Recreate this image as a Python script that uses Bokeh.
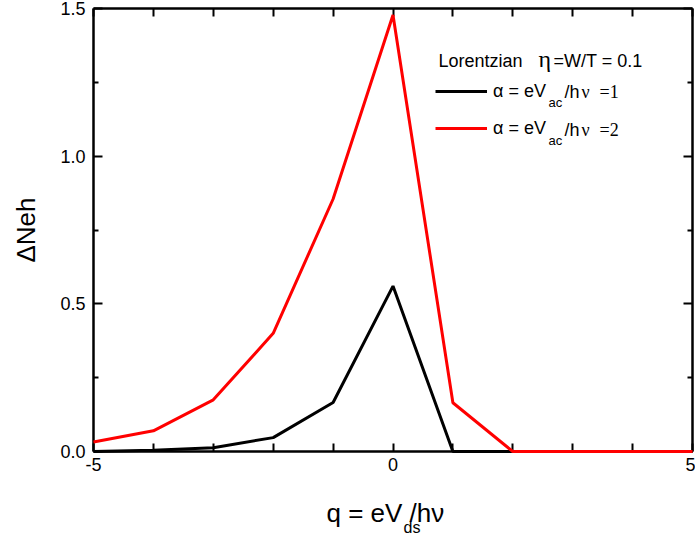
from bokeh.plotting import figure
from bokeh.models import (LinearAxis, FixedTicker, Label, Legend, LegendItem,
                          Range1d, ColumnDataSource, NumeralTickFormatter)
from bokeh.embed import file_html
from bokeh.resources import INLINE

# ---- data ----
q = [-5, -4, -3, -2, -1, 0, 1, 2, 3, 4, 5]
dn_alpha1 = [0.0, 0.004, 0.013, 0.047, 0.166, 0.56, 0.0, 0.0, 0.0, 0.0, 0.0]
dn_alpha2 = [0.032, 0.07, 0.175, 0.40, 0.855, 1.478, 0.165, 0.0, 0.0, 0.0, 0.0]

x_major = [-5, 0, 5]
x_minor = [-4, -3, -2, -1, 1, 2, 3, 4]
y_major = [0.0, 0.5, 1.0, 1.5]
y_minor = [0.25, 0.75, 1.25]

SANS = "Liberation Sans"
SERIF = "Liberation Serif"

W, H = 695, 541
FL, FR, FT, FB = 93, 692, 8, 451    # frame edges in page pixels

p = figure(width=W, height=H, x_range=Range1d(-5, 5), y_range=Range1d(0, 1.5),
           output_backend="svg", toolbar_location=None,
           min_border_left=FL, min_border_right=W - FR, min_border_top=FT,
           min_border_bottom=H - FB)
p.xgrid.visible = False
p.ygrid.visible = False
p.outline_line_color = None
p.background_fill_color = "white"
p.border_fill_color = "white"


def style_axis(ax, major, minor, maj_len, min_len, labels):
    ax.ticker = FixedTicker(ticks=major, minor_ticks=minor)
    ax.axis_line_width = 2.5
    ax.axis_line_color = "black"
    ax.major_tick_line_width = 2
    ax.minor_tick_line_width = 2
    ax.major_tick_in = maj_len
    ax.major_tick_out = 0
    ax.minor_tick_in = min_len
    ax.minor_tick_out = 0
    if labels:
        ax.major_label_text_font = SANS
        ax.major_label_text_font_size = "18px"
        ax.major_label_text_color = "black"
    else:
        ax.major_label_text_font_size = "0px"
        ax.major_label_text_color = None
        ax.major_label_standoff = 0


xb = p.xaxis[0]
yl = p.yaxis[0]
style_axis(xb, x_major, x_minor, 8, 8, True)
style_axis(yl, y_major, y_minor, 9, 5, True)
xb.major_label_standoff = 6
xb.formatter = NumeralTickFormatter(format="0")
yl.major_label_standoff = 8
yl.formatter = NumeralTickFormatter(format="0.0")

yl.axis_label = "ΔNeh"
yl.axis_label_text_font = SANS
yl.axis_label_text_font_size = "26px"
yl.axis_label_text_font_style = "normal"
yl.axis_label_text_color = "black"
yl.axis_label_standoff = 16

xt = LinearAxis()
style_axis(xt, x_major, x_minor, 8, 8, False)
p.add_layout(xt, "above")
yr = LinearAxis()
style_axis(yr, y_major, y_minor, 9, 5, False)
p.add_layout(yr, "right")

src = ColumnDataSource(dict(q=q, a1=dn_alpha1, a2=dn_alpha2))
r1 = p.line("q", "a1", source=src, line_color="black", line_width=3, level="overlay")
r2 = p.line("q", "a2", source=src, line_color="#ff0000", line_width=3, level="overlay")

legend = Legend(items=[LegendItem(label="α = eV", renderers=[r1]),
                       LegendItem(label="α = eV", renderers=[r2])],
                location=(435 - FL, FB - 139), padding=0, margin=0, spacing=15,
                glyph_width=52, glyph_height=22, label_height=22, label_standoff=6,
                label_text_font=SANS, label_text_font_size="18px",
                label_text_color="black",
                border_line_color=None, background_fill_alpha=0)
p.add_layout(legend)


def px_x(px):
    return -5 + (px - FL) * 10 / (FR - FL)


def px_y(py):
    return (FB - py) * 1.5 / (FB - FT)


def add_text(px, py, text, size, font=SANS, place="center"):
    # py is the wanted baseline; the rendered baseline sits ~0.36 em lower
    p.add_layout(Label(x=px_x(px), y=px_y(py - 0.36 * size), text=text, text_font=font,
                       text_font_size=f"{size}px", text_baseline="alphabetic",
                       text_align="left", text_color="black"), place)


# legend header
add_text(438, 67, "Lorentzian", 18)
add_text(538, 67, "η", 24, SERIF)
add_text(553, 67, "=W/T = 0.1", 18)

# rest of legend entries
for base, val in ((98, "=1"), (136, "=2")):
    add_text(548, base + 9, "ac", 13)
    add_text(564, base, "/h", 18)
    add_text(581, base, "ν", 18, SERIF)
    add_text(599, base, val, 18, SERIF)

# x-axis title, placed in the panel below the frame (so it is not clipped)
add_text(326, 522, "q = eV   /hν", 26, place="below")
add_text(403, 533, "ds", 16, place="below")

open("out.html", "w").write(file_html(p, INLINE))
